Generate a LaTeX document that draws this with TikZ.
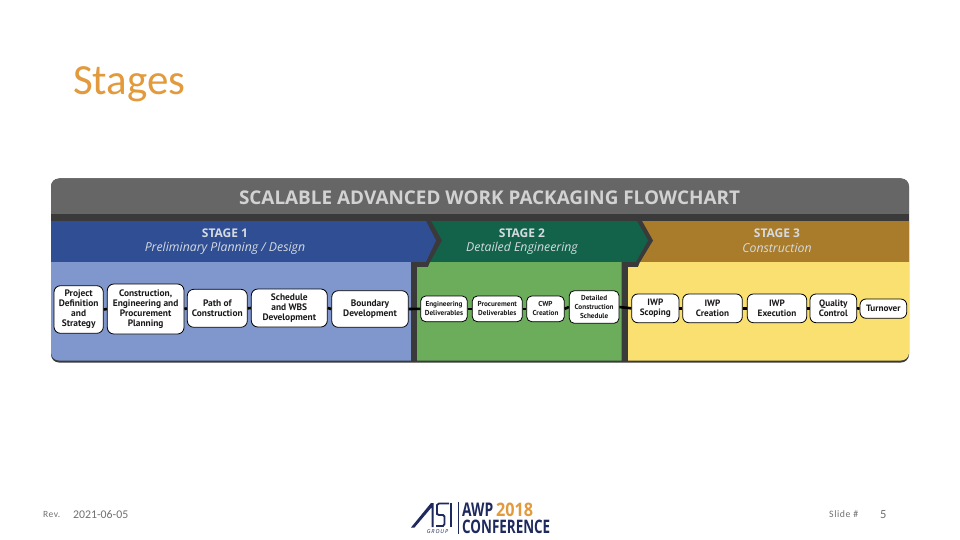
\documentclass[tikz,border=0pt]{standalone}
\usepackage{fontspec}
\usepackage{graphicx}
\setmainfont{Carlito}
\newfontfamily\osans{Open Sans}
\newfontfamily\ptsans{PT Sans}
\definecolor{hdr}{HTML}{666666}
\definecolor{dk}{HTML}{3A3A3A}
\definecolor{bandA}{HTML}{2F4E93}
\definecolor{bandB}{HTML}{12634A}
\definecolor{bandC}{HTML}{A97C2B}
\definecolor{bodyA}{HTML}{7F97CC}
\definecolor{bodyB}{HTML}{6BAD5B}
\definecolor{bodyC}{HTML}{F9E070}
\definecolor{titleorange}{HTML}{E29A3C}
\definecolor{navy}{HTML}{1E2A5E}
\definecolor{footgray}{HTML}{707070}
\definecolor{bandtext}{HTML}{D5DAE0}
\definecolor{headtext}{HTML}{D2D2D2}
\tikzset{
  x=1pt,y=-1pt,
  stepbox/.style={draw=black,line width=0.8pt,fill=white,rounded corners=6.5pt,inner sep=0pt,align=center,
    font=\ptsans\bfseries\fontsize{9.4}{10}\selectfont,text=black!90},
  link/.style={draw=black,line width=2.6pt},
  stagehead/.style={font=\osans\bfseries\fontsize{12}{14}\selectfont,text=bandtext,inner sep=0pt},
  stagesub/.style={font=\osans\itshape\fontsize{12.3}{14}\selectfont,text=bandtext,inner sep=0pt},
  foot/.style={text=footgray,inner sep=0pt,anchor=west},
}
\newcommand{\boxat}[6]{\node[stepbox,minimum width=#4pt-#2pt,minimum height=#5pt-#3pt] (#1) at ({(#2+#4)/2},{(#3+#5)/2}) {#6};}
\begin{document}
\begin{tikzpicture}
\useasboundingbox (0,0) rectangle (960,540);
\fill[white] (0,0) rectangle (960,540);
% panel
\fill[dk,rounded corners=8pt] (51,178.5) rectangle (909,362.5);
\begin{scope}
\clip[rounded corners=8pt] (51,178.5) rectangle (909,360.5);
\fill[hdr] (51,178.5) rectangle (909,214);
\fill[dk] (51,214) rectangle (909,221);
\fill[bodyA] (51,262) rectangle (411,361);
\fill[dk] (411,262) rectangle (417,361);
\fill[bodyB] (417,267) -- (428,267) -- (430,262) -- (621.5,262) -- (621.5,361) -- (417,361) -- cycle;
\fill[dk] (621.5,262) rectangle (628,361);
\fill[bodyC] (628,267) -- (638,267) -- (640,262) -- (909,262) -- (909,361) -- (628,361) -- cycle;
\fill[bandC] (640,221) -- (909,221) -- (909,261.8) -- (640,261.8) -- (652,240.5) -- cycle;
\fill[dk] (632,221) -- (642,221) -- (653,240.5) -- (640,262) -- (632,262) -- cycle;
\fill[bandB] (429,221) -- (637,221) -- (648,240.5) -- (636,261.8) -- (429,261.8) -- (441,240.5) -- cycle;
\fill[dk] (420,221) -- (431,221) -- (442,240.5) -- (430,262) -- (420,262) -- cycle;
\fill[bandA] (51,221) -- (426,221) -- (436,240.5) -- (426,261.8) -- (51,261.8) -- cycle;
\end{scope}
% header texts
\node[inner sep=0pt,text=headtext] (title) at (489.5,197.5)
  {\resizebox{501pt}{!}{\osans\bfseries\fontsize{17}{20}\selectfont SCALABLE ADVANCED WORK PACKAGING FLOWCHART}};
\node[stagehead] (s1) at (225,233.5) {STAGE 1};
\node[stagesub] (s1b) at (225,248.3) {Preliminary Planning / Design};
\node[stagehead] (s2) at (522,233.5) {STAGE 2};
\node[stagesub] (s2b) at (522,248.3) {Detailed Engineering};
\node[stagehead] (s3) at (777,233.5) {STAGE 3};
\node[stagesub] (s3b) at (777,248.3) {Construction};
% steps
\boxat{a1}{54}{285.7}{103.3}{333.3}{Project\\Definition\\and\\Strategy}
\boxat{a2}{107.3}{284}{184}{334}{Construction,\\Engineering and\\Procurement\\Planning}
\boxat{a3}{187.3}{289.3}{247.3}{327.3}{Path of\\Construction}
\boxat{a4}{251.3}{289}{327.3}{327}{Schedule\\and WBS\\Development}
\boxat{a5}{331.7}{290.7}{408.3}{327.3}{Boundary\\Development}
\tikzset{stepbox/.append style={font=\ptsans\bfseries\fontsize{7.2}{9}\selectfont,rounded corners=5pt}}
\boxat{b1}{420.7}{296}{467.3}{321.7}{Engineering\\Deliverables}
\boxat{b2}{472.3}{296}{522.3}{321.7}{Procurement\\Deliverables}
\boxat{b3}{526.7}{296}{564.3}{321.7}{CWP\\Creation}
\boxat{b4}{569.3}{290.7}{619}{323.3}{Detailed\\Construction\\Schedule}
\tikzset{stepbox/.append style={font=\ptsans\bfseries\fontsize{9.2}{10}\selectfont,rounded corners=6pt}}
\boxat{c1}{631.7}{294}{679}{322.7}{IWP\\Scoping}
\boxat{c2}{682.7}{294}{742.3}{322.7}{IWP\\Creation}
\boxat{c3}{747.3}{294}{806.7}{322.7}{IWP\\Execution}
\boxat{c4}{810}{294}{856.7}{322.7}{Quality\\Control}
\boxat{c5}{860}{299}{906.7}{318.3}{Turnover}
\foreach \p/\q in {a1/a2,a2/a3,a3/a4,a4/a5,a5/b1,b1/b2,b2/b3,b3/b4,b4/c1,c1/c2,c2/c3,c3/c4,c4/c5}
  \draw[link] (\p.east) -- (\q.west);
% slide texts
\node[inner sep=0pt,anchor=base west,text=titleorange] (ttl) at (73,95)
  {\fontsize{43}{46}\selectfont Stages};
\node[foot] (rev) at (43,514) {\addfontfeature{LetterSpace=5}\fontsize{9.5}{10}\selectfont Rev.};
\node[foot] (date) at (73,514.5) {\fontsize{11.8}{13}\selectfont 2021-06-05};
\node[foot] (sl) at (829,514) {\addfontfeature{LetterSpace=6}\fontsize{9.8}{10}\selectfont Slide \#};
\node[foot] (num) at (880,514.5) {\fontsize{12.5}{13}\selectfont 5};
% logo
\fill[navy] (411,527.5) -- (431,503) -- (433.5,503) -- (433.5,527) -- (431.5,527) -- (431.5,507.5) -- (414.5,527.5) -- cycle;
\draw[navy,line width=1.8pt] (449,503.5) -- (439,503.5) -- (437,505) -- (437,514) -- (439,515) -- (443,515) -- (444.5,516.5) -- (444.5,524) -- (443,526) -- (436,526);
\fill[navy] (450,503) rectangle (452.3,527);
\draw[navy,line width=0.8pt] (458,502) -- (458,534);
\node[inner sep=0pt,text=navy,font=\osans\itshape\fontsize{5.5}{6}\selectfont] (grp) at (437.5,532) {G\,R\,O\,U\,P};
\node[inner sep=0pt,anchor=north west,text=navy] (awp) at (462,502.5) {\resizebox{31pt}{13.5pt}{\osans\bfseries AWP}};
\node[inner sep=0pt,anchor=north west,text=titleorange] (yr) at (496,502.5) {\resizebox{37pt}{13.5pt}{\osans\bfseries 2018}};
\node[inner sep=0pt,anchor=north west,text=navy] (conf) at (462,520) {\resizebox{88pt}{13.5pt}{\osans\bfseries CONFERENCE}};
\end{tikzpicture}
\end{document}
